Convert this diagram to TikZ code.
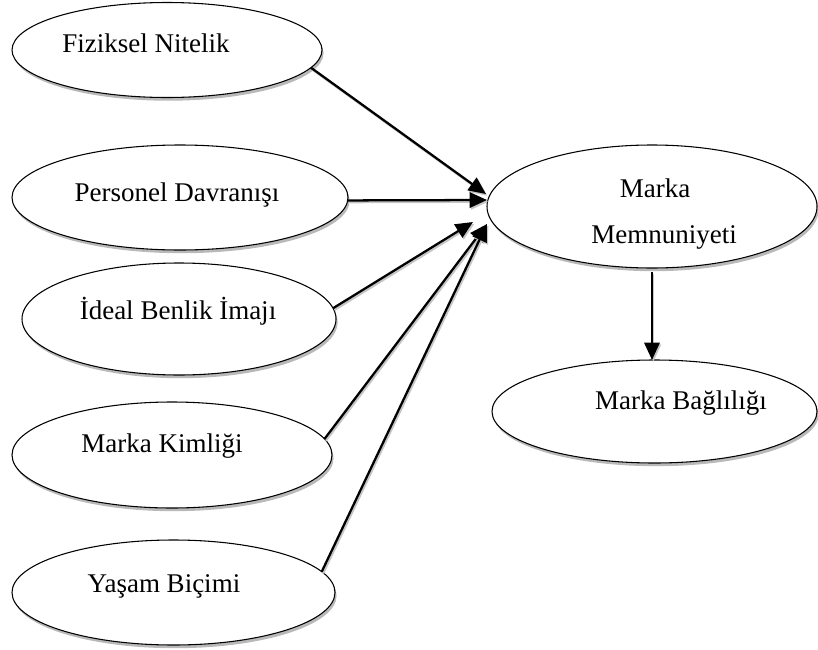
\documentclass[tikz,border=0pt]{standalone}
\usepackage{fontspec}
\setmainfont{Liberation Serif}
\usetikzlibrary{shapes.geometric,arrows.meta,shadows}
\begin{document}
\begin{tikzpicture}[x=0.75pt,y=-0.75pt,
  oval/.style={ellipse, draw=black, line width=0.8pt, fill=white, inner sep=0pt, outer sep=0pt,
    drop shadow={shadow xshift=1.2pt, shadow yshift=-2.4pt, fill=gray!55, opacity=1}},
  lbl/.style={font=\fontsize{20.25}{24}\selectfont, inner sep=0pt, text height=13.5pt, text depth=0pt, anchor=center},
  conn/.style={line width=1.7pt, -{Triangle[length=13pt,width=11.5pt]},
    preaction={draw=gray!45, line width=1.7pt, transform canvas={xshift=1pt,yshift=-1.3pt}}}
]
\useasboundingbox (0,0) rectangle (818,650);
% ovals
\node[oval, minimum width=232.5pt, minimum height=71.25pt] (e1) at (167,50) {};
\node[oval, minimum width=252pt, minimum height=78.75pt] (e2) at (180,197.5) {};
\node[oval, minimum width=235.5pt, minimum height=84pt] (e3) at (179,319) {};
\node[oval, minimum width=240pt, minimum height=79.5pt] (e4) at (172,455) {};
\node[oval, minimum width=242.25pt, minimum height=78.75pt] (e5) at (173.5,592.5) {};
\node[oval, minimum width=247.5pt, minimum height=92.25pt] (m) at (652,206.5) {};
\node[oval, minimum width=243.75pt, minimum height=77.25pt] (b) at (654.5,411.5) {};
% labels
\node[lbl] (l1) at (146,43) {Fiziksel Nitelik};
\node[lbl] (l2) at (177,192) {Personel Davranışı};
\node[lbl] (l3) at (178,310) {İdeal Benlik İmajı};
\node[lbl] (l4) at (162,443) {Marka Kimliği};
\node[lbl] (l5) at (164,583) {Yaşam Biçimi};
\node[lbl] (l6a) at (655,188) {Marka};
\node[lbl] (l6b) at (664,234) {Memnuniyeti};
\node[lbl] (l7) at (681,400) {Marka Bağlılığı};
% arrow tips
\coordinate (t1) at (486,194);
\coordinate (t2) at (487,200);
\coordinate (t3) at (473,222);
\coordinate (t4) at (487,224);
% connectors
\draw[conn] (e1.-7) -- (t1);
\draw[conn] (e2.-1) -- (t2);
\draw[conn] (e3.4) -- (t3);
\draw[conn] (e4.6) -- (t4);
\draw[conn] (e5.8) -- (t4);
\draw[conn] ([yshift=-3pt]m.south) -- (m.south |- b.north);
\end{tikzpicture}
\end{document}
